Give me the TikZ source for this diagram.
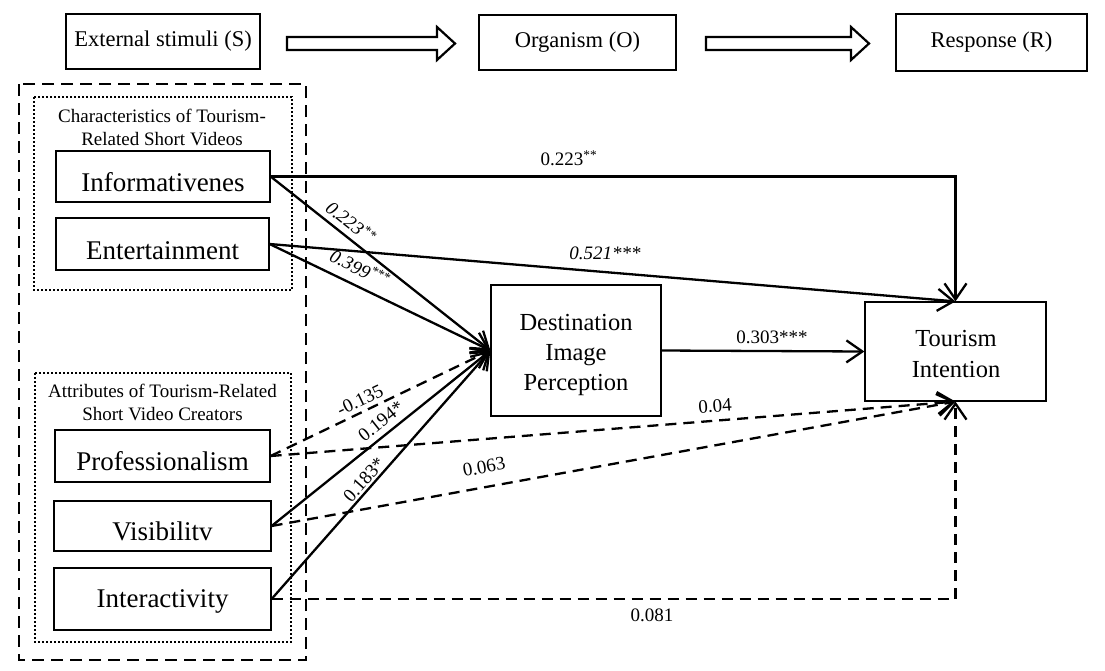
\documentclass[tikz,border=0pt]{standalone}
\usepackage{fontspec}
\setmainfont{Liberation Serif}
\usetikzlibrary{arrows.meta}
\begin{document}
\begin{tikzpicture}[x=1pt,y=-1pt,
  box/.style={draw,line width=1.2pt,inner sep=0pt},
  toptxt/.style={font=\fontsize{22.5}{26}\selectfont},
  bigtxt/.style={font=\fontsize{27}{30}\selectfont,inner sep=0pt},
  midtxt/.style={font=\fontsize{24.5}{30}\selectfont,align=center,inner sep=0pt},
  grptxt/.style={font=\fontsize{19}{23}\selectfont,align=center,inner sep=0pt},
  lbl/.style={font=\fontsize{19}{20}\selectfont,inner sep=0pt},
  ilbl/.style={font=\fontsize{19}{20}\selectfont\itshape,inner sep=0pt},
  conn/.style={line width=2.3pt,-{Straight Barb[length=16pt,width=22pt,line width=2.3pt]}},
  dconn/.style={conn,dash pattern=on 11pt off 7pt},
  hollow/.style={draw,line width=2.2pt,line join=miter},
  outerdash/.style={draw,line width=2.5pt,dash pattern=on 12pt off 7pt},
  dotbox/.style={draw,line width=2pt,dash pattern=on 2pt off 2pt}
]
\useasboundingbox[fill=white] (0,0) rectangle (1105,670);

% top row
\node[box,toptxt,minimum width=194pt,minimum height=55pt] (ext) at (163,41.5) {External stimuli (S)};
\node[box,toptxt,minimum width=197pt,minimum height=55pt] (org) at (577.5,42.5) {Organism (O)};
\node[box,toptxt,minimum width=191pt,minimum height=57pt] (resp) at (991.5,42.5) {Response (R)};
\draw[hollow] (287,37) -- (437,37) -- (437,27) -- (455,43.5) -- (437,60) -- (437,50) -- (287,50) -- cycle;
\draw[hollow] (706,37) -- (851,37) -- (851,27) -- (869,43.5) -- (851,60) -- (851,50) -- (706,50) -- cycle;

% group frames
\draw[outerdash] (19,84) rectangle (306,660);
\draw[dotbox] (34,97) rectangle (292,290);
\draw[dotbox] (35,373) rectangle (291,642);
\node[grptxt] (g1) at (162,127) {Characteristics of Tourism-\\Related Short Videos};
\node[grptxt] (g2) at (162.5,402) {Attributes of Tourism-Related\\Short Video Creators};

% left boxes
\node[box,minimum width=214pt,minimum height=51pt] (info) at (163,176.5) {};
\node[bigtxt] at (163,182) {Informativenes};
\node[box,minimum width=213pt,minimum height=52pt] (ent) at (162.5,244) {};
\node[bigtxt] at (162.5,251) {Entertainment};
\node[box,minimum width=215pt,minimum height=52pt] (prof) at (162.5,456) {};
\node[bigtxt] at (162.5,461) {Professionalism};
\node[box,minimum width=217pt,minimum height=50pt] (vis) at (162.5,526) {};
\node[bigtxt] at (162.5,531) {Visibilitv};
\node[box,minimum width=217pt,minimum height=62pt] (inter) at (162.5,599) {};
\node[bigtxt] at (162.5,601) {Interactivity};

% middle and right boxes
\node[box,minimum width=170pt,minimum height=131pt] (dip) at (576,350.5) {};
\node[midtxt] at (576,355) {Destination\\Image\\Perception};
\node[box,minimum width=181pt,minimum height=99pt] (ti) at (955.5,351.5) {};
\node[midtxt] at (956,354) {Tourism\\Intention};

% connectors
\draw[conn] (info.east) -| (ti.north);
\draw[conn] (ent.east) -- (ti.north);
\draw[conn] (info.east) -- (dip.west);
\draw[conn] (ent.east) -- (dip.west);
\draw[dconn] (prof.east) -- (dip.west);
\draw[conn] (vis.east) -- (dip.west);
\draw[conn] (inter.east) -- (dip.west);
\draw[conn] (dip.east) -- (ti.west);
\draw[dconn] (prof.east) -- (ti.south);
\draw[dconn] (vis.east) -- (ti.south);
\draw[dconn] (inter.east) -| (ti.south);

% labels
\node[lbl] at (569,158) {0.223\textsuperscript{**}};
\node[ilbl] at (605,253) {0.521***};
\node[ilbl,rotate=-38.7] at (351,222) {0.223\textsuperscript{**}};
\node[ilbl,rotate=-26.3] at (360,268) {0.399\textsuperscript{***}};
\node[lbl] at (772,337) {0.303***};
\node[lbl,rotate=25.6] at (360,400) {-0.135};
\node[lbl,rotate=38.5] at (381,421) {0.194*};
\node[lbl,rotate=48.4] at (364,480) {0.183*};
\node[lbl,rotate=10.3] at (484,467) {0.063};
\node[lbl,rotate=4] at (715,406) {0.04};
\node[lbl] at (652,615) {0.081};
\end{tikzpicture}
\end{document}
